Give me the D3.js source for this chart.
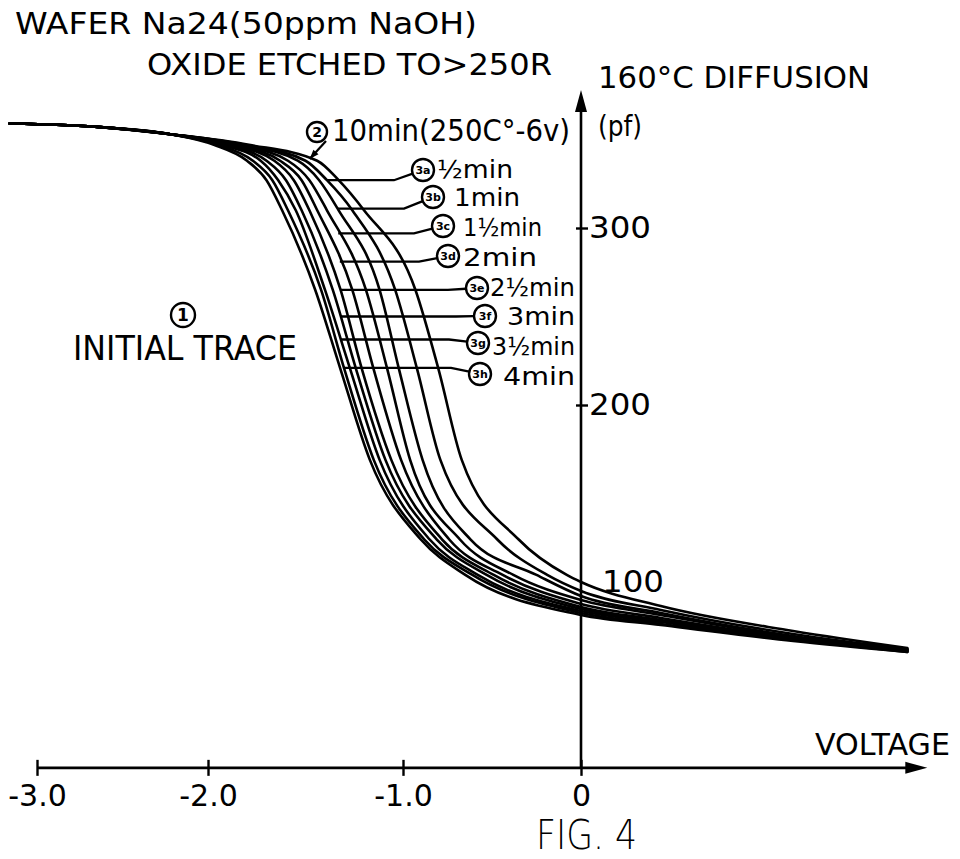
<!DOCTYPE html>
<html>
<head>
<meta charset="utf-8">
<script src="https://cdn.jsdelivr.net/npm/d3@7"></script>
<style>
  body { margin: 0; background: #fff; }
  svg { display: block; }
  text { font-family: "DejaVu Sans", "Liberation Sans", sans-serif; fill: #000; }
</style>
</head>
<body>
<svg id="chart" width="960" height="859"></svg>
<script>
'use strict';

// flat part on the left where every trace runs together (volts / pf)
var plateauV = [-3.16, -2.63, -2.22];
var plateauC = [359, 357, 353];

// capacitance levels (pf) where the traces fan out
var capLevels = [347, 338, 327, 310, 265, 220, 169, 124, 104];

// traces from left to right in the middle of the sweep
var traceNames = ["initial trace", "4min", "3.5min", "3min", "2.5min", "2min", "1.5min", "1min", "0.5min", "10min 250C -6v"];

// voltage of each trace at each of capLevels
var levelV = [
    [-1.97, -1.80, -1.70, -1.62, -1.45, -1.32, -1.17, -0.90, -0.65],
    [-1.95, -1.77, -1.67, -1.59, -1.42, -1.30, -1.15, -0.88, -0.61],
    [-1.93, -1.73, -1.64, -1.55, -1.40, -1.27, -1.12, -0.85, -0.58],
    [-1.91, -1.70, -1.60, -1.52, -1.36, -1.24, -1.09, -0.81, -0.53],
    [-1.89, -1.66, -1.56, -1.48, -1.32, -1.21, -1.06, -0.78, -0.49],
    [-1.87, -1.63, -1.52, -1.44, -1.26, -1.15, -1.01, -0.74, -0.44],
    [-1.85, -1.59, -1.48, -1.39, -1.19, -1.08, -0.96, -0.68, -0.38],
    [-1.83, -1.54, -1.43, -1.33, -1.12, -1.02, -0.89, -0.62, -0.25],
    [-1.81, -1.50, -1.39, -1.26, -1.04, -0.92, -0.79, -0.47, -0.19],
    [-1.79, -1.44, -1.33, -1.20, -0.93, -0.80, -0.67, -0.35, -0.08]
];

// tail on the right: capacitance of each trace at tailV
var tailV = [0, 0.44, 1.17, 1.80];
var tailC = [
    [81.4, 75.7, 66.7, 60.5],
    [82.5, 76.3, 67.2, 60.5],
    [83.6, 77.4, 67.2, 61.0],
    [84.7, 78.0, 67.8, 61.0],
    [85.9, 78.5, 68.4, 61.6],
    [87.6, 79.7, 68.4, 61.6],
    [89.8, 81.4, 68.9, 61.6],
    [92.1, 82.5, 69.5, 62.1],
    [94.9, 84.2, 70.6, 62.1],
    [100.0, 86.4, 72.3, 62.7]
];

// axes
var xTicks = [-3, -2, -1, 0];
var xTickLabels = ["-3.0", "-2.0", "-1.0", "0"];
var yTicks = [300, 200, 100];
var yTickLabels = ["300", "200", "100"];

// diffusion step labels and the trace each one points at
var stepLabels = ["½min", "1min", "1½min", "2min", "2½min", "3min", "3½min", "4min"];
var stepTags = ["3a", "3b", "3c", "3d", "3e", "3f", "3g", "3h"];
var stepTrace = [8, 7, 6, 5, 4, 3, 2, 1];
var leaderC = [327, 311, 297, 281, 265, 250, 237, 221];

// where the step labels sit on the page
var stepLayout = [
    {cx: 423, cy: 170, tx: 437, ty: 178, w: 76},
    {cx: 433, cy: 197, tx: 454, ty: 206, w: 66},
    {cx: 443, cy: 226, tx: 463, ty: 236, w: 79},
    {cx: 448, cy: 256, tx: 463, ty: 266, w: 74},
    {cx: 477, cy: 288, tx: 490, ty: 296, w: 85},
    {cx: 485, cy: 316, tx: 507, ty: 325, w: 68},
    {cx: 478, cy: 343, tx: 492, ty: 355, w: 83},
    {cx: 480, cy: 374, tx: 503, ty: 385, w: 72}
];

var svg = d3.select("#chart");

// the hand drawn axis is not evenly spaced, so follow its ticks
var x = d3.scaleLinear()
    .domain([-3, -2, -1, 0, 2])
    .range([37, 208, 403, 581, 943.6]);
var y = d3.scaleLinear()
    .domain([0, 100])
    .range([759, 582]);

var axisC = -5;      // capacitance where the voltage axis is drawn
var xEnd = 1.91;     // right end of the voltage arrow
var yEnd = 378;      // top of the capacitance arrow

var traces = traceNames.map(function(name, i) {
    var pts = plateauV.map(function(v, k) { return [v, plateauC[k]]; })
        .concat(capLevels.map(function(c, k) { return [levelV[i][k], c]; }))
        .concat(tailV.map(function(v, k) { return [v, tailC[i][k]]; }));
    pts.sort(function(a, b) { return a[0] - b[0]; });
    return {name: name, points: pts};
});

var line = d3.line()
    .x(function(d) { return x(d[0]); })
    .y(function(d) { return y(d[1]); })
    .curve(d3.curveMonotoneX);

// voltage of trace i at capacitance c
function voltAt(i, c) {
    var p = traces[i].points;
    for (var k = 0; k < p.length - 1; k++) {
        var c0 = p[k][1], c1 = p[k + 1][1];
        if ((c0 - c) * (c1 - c) <= 0) {
            var t = (c - c0) / (c1 - c0);
            return p[k][0] + t * (p[k + 1][0] - p[k][0]);
        }
    }
    return p[0][0];
}

function label(txt, tx, ty, size, width) {
    var t = svg.append("text")
        .attr("x", tx)
        .attr("y", ty)
        .attr("font-size", size)
        .text(txt);
    if (width) {
        t.attr("textLength", width).attr("lengthAdjust", "spacingAndGlyphs");
    }
    return t;
}

function tagCircle(cx, cy, r, txt, size) {
    svg.append("circle")
        .attr("cx", cx)
        .attr("cy", cy)
        .attr("r", r)
        .attr("fill", "#fff")
        .attr("stroke", "#000")
        .attr("stroke-width", 2.4);
    svg.append("text")
        .attr("x", cx)
        .attr("y", cy)
        .attr("dy", "0.36em")
        .attr("text-anchor", "middle")
        .attr("font-size", size)
        .attr("font-weight", "bold")
        .text(txt);
}

// axes
var gx = svg.append("g")
    .attr("transform", "translate(0," + y(axisC) + ")")
    .call(d3.axisBottom(x)
        .tickValues(xTicks)
        .tickFormat(function(d, i) { return xTickLabels[i]; }));
gx.attr("font-family", null).attr("font-size", 30);
gx.select(".domain").remove();
gx.selectAll(".tick line")
    .attr("y1", -8)
    .attr("y2", 8)
    .attr("stroke-width", 2.4);
gx.selectAll(".tick text")
    .attr("y", 38)
    .attr("dy", 0);

var gy = svg.append("g")
    .attr("transform", "translate(" + x(0) + ",0)")
    .call(d3.axisRight(y)
        .tickValues(yTicks)
        .tickFormat(function(d, i) { return yTickLabels[i]; }));
gy.attr("font-family", null).attr("font-size", 30);
gy.select(".domain").remove();
gy.selectAll(".tick line")
    .attr("x1", -5)
    .attr("x2", 7)
    .attr("stroke-width", 2.4)
    .attr("display", function(d) { return d === 100 ? "none" : null; });
gy.selectAll(".tick text")
    .attr("x", function(d) { return d === 100 ? 21 : 8; })
    .attr("textLength", 62)
    .attr("lengthAdjust", "spacingAndGlyphs");

svg.append("line")
    .attr("x1", x(-3)).attr("y1", y(axisC))
    .attr("x2", x(xEnd) - 10).attr("y2", y(axisC))
    .attr("stroke", "#000").attr("stroke-width", 2.6);
svg.append("path")
    .attr("d", "M" + x(xEnd) + "," + y(axisC) +
        "l-22,-6v12z")
    .attr("fill", "#000");

svg.append("line")
    .attr("x1", x(0)).attr("y1", y(axisC))
    .attr("x2", x(0)).attr("y2", y(yEnd) + 10)
    .attr("stroke", "#000").attr("stroke-width", 2.6);
svg.append("path")
    .attr("d", "M" + x(0) + "," + y(yEnd) + "l-6,22h12z")
    .attr("fill", "#000");

// traces
svg.append("g")
    .selectAll("path")
    .data(traces)
    .enter()
    .append("path")
    .attr("d", function(d) { return line(d.points); })
    .attr("fill", "none")
    .attr("stroke", "#000")
    .attr("stroke-width", 2.6)
    .attr("stroke-linecap", "round");

// leader lines for the diffusion steps
stepLabels.forEach(function(s, i) {
    var L = stepLayout[i];
    var r = 11;
    var ly = y(leaderC[i]);
    var x0 = x(voltAt(stepTrace[i], leaderC[i]));
    var bend = L.cx - r - 18;
    var ang = Math.atan2(ly - L.cy, bend - L.cx);
    var ex = L.cx + r * Math.cos(ang);
    var ey = L.cy + r * Math.sin(ang);
    svg.append("path")
        .attr("d", "M" + x0 + "," + ly + "H" + bend + "L" + ex + "," + ey)
        .attr("fill", "none")
        .attr("stroke", "#000")
        .attr("stroke-width", 2.3);
});

stepLabels.forEach(function(s, i) {
    var L = stepLayout[i];
    tagCircle(L.cx, L.cy, 11, stepTags[i], 11);
    label(s, L.tx, L.ty, 25, L.w);
});

// (2) 10 min bias label, arrow onto the outer trace
var arrowC = 339;
var ax = x(voltAt(9, arrowC));
var ay = y(arrowC);
var sx = 326, sy = 141;
var aa = Math.atan2(ay - sy, ax - sx);
svg.append("line")
    .attr("x1", sx).attr("y1", sy)
    .attr("x2", ax).attr("y2", ay)
    .attr("stroke", "#000").attr("stroke-width", 2.2);
svg.append("path")
    .attr("d", "M" + ax + "," + ay +
        "L" + (ax - 10 * Math.cos(aa - 0.35)) + "," + (ay - 10 * Math.sin(aa - 0.35)) +
        "L" + (ax - 10 * Math.cos(aa + 0.35)) + "," + (ay - 10 * Math.sin(aa + 0.35)) + "z")
    .attr("fill", "#000");
tagCircle(317, 132, 10, "2", 14);
label("10min(250C°-6v)", 332, 141, 30, 238);

// (1) initial trace
tagCircle(183, 315, 12, "1", 17);
label("INITIAL TRACE", 73, 360, 34, 224);

// titles
label("WAFER Na24(50ppm NaOH)", 15, 34, 30, 462);
label("OXIDE ETCHED TO>250R", 147, 75, 30, 405);
label("160°C DIFFUSION", 598, 88, 30, 272);
label("(pf)", 598, 136, 28, 44);
label("VOLTAGE", 815, 755, 30, 135);
label("FIG. 4", 536, 849, 40, 101).attr("font-weight", 300);
</script>
</body>
</html>
